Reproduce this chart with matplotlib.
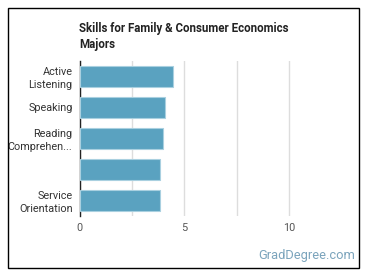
import matplotlib.pyplot as plt
from matplotlib.patches import Rectangle

skills = ['Active\nListening', 'Speaking', 'Reading\nComprehen...', '', 'Service\nOrientation']
scores = [4.48, 4.10, 4.00, 3.86, 3.86]
xticks = [0, 5, 10]

plt.rcParams['font.family'] = ['Roboto', 'DejaVu Sans']

fig = plt.figure(figsize=(3.7, 2.78), dpi=100)
ax = fig.add_axes([0.215, 0.224, 0.707, 0.557])

ypos = range(len(skills))
ax.barh(ypos, scores, height=0.665, color='#5aa2c0', edgecolor='#a9d0e0', linewidth=0.8, zorder=3)
ax.set_ylim(4.5, -0.5)
ax.set_xlim(0, 12.5)
ax.set_yticks(list(ypos))
ax.set_yticklabels(skills, fontsize=7.8, color='#333333', linespacing=1.35)
ax.set_xticks(xticks)
ax.set_xticklabels([str(t) for t in xticks], fontsize=7.8, color='#555555')
ax.set_xticks([2.5, 7.5], minor=True)
ax.grid(axis='x', which='both', color='#dddddd', linewidth=1, zorder=0)
ax.tick_params(which='both', length=0, pad=5)
for s in ['top', 'right', 'bottom']:
    ax.spines[s].set_visible(False)
ax.spines['left'].set_color('#222222')
ax.spines['left'].set_linewidth(1)

fig.text(79 / 370, 1 - 22 / 278, 'Skills for Family & Consumer Economics\nMajors',
         fontsize=8.3, fontweight='bold', color='#222222', va='top', ha='left', linespacing=1.3)
fig.text(355 / 370, 1 - 255 / 278, 'GradDegree.com', fontsize=9.3, color='#7ba4bc',
         ha='right', va='center')

fig.patches.append(Rectangle((8 / 370, 1 - 268 / 278), 351 / 370, 260 / 278,
                             transform=fig.transFigure, fill=False, edgecolor='black', linewidth=1))

fig.savefig('out.png', dpi=100)
